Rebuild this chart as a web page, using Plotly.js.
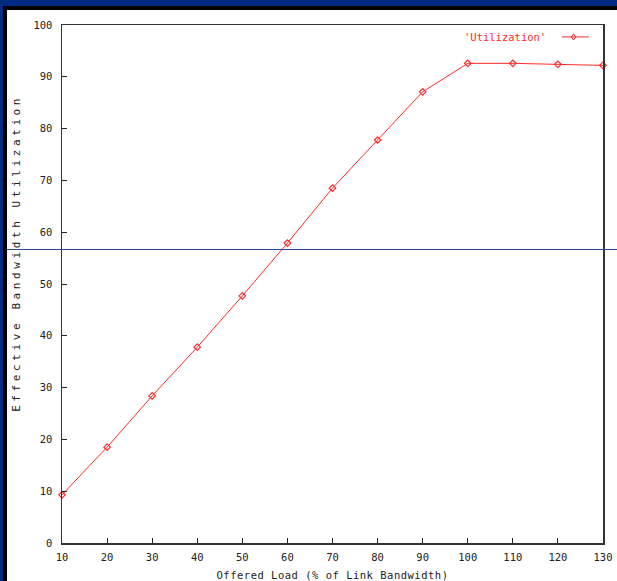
<!DOCTYPE html>
<html>
<head>
<meta charset="utf-8">
<script src="https://cdn.plot.ly/plotly-3.0.1.min.js"></script>
<style>
html, body { margin:0; padding:0; width:617px; height:581px; overflow:hidden; background:#012a80; }
#frame { position:absolute; left:3px; top:6px; width:614px; height:575px; background:#000; }
#chart { position:absolute; left:7px; top:10px; width:610px; height:571px; background:#fff; }
.annotation[data-index="1"] text { letter-spacing:3.6px; }
.xtitle { letter-spacing:0.5px; }
</style>
</head>
<body>
<div id="frame"></div>
<div id="chart"></div>
<script>
// Data
const offeredLoad = [10, 20, 30, 40, 50, 60, 70, 80, 90, 100, 110, 120, 130];
const utilization = [9.3, 18.5, 28.4, 37.8, 47.7, 57.9, 68.5, 77.8, 87.1, 92.6, 92.6, 92.4, 92.2];
const xTicks = [10, 20, 30, 40, 50, 60, 70, 80, 90, 100, 110, 120, 130];
const yTicks = [0, 10, 20, 30, 40, 50, 60, 70, 80, 90, 100];
const seriesName = "'Utilization'";
const xTitle = 'Offered Load (% of Link Bandwidth)';
const yTitle = 'Effective Bandwidth Utilization';

const mono = "DejaVu Sans Mono, Liberation Mono, monospace";
const red = '#ff2a2a';

const trace = {
  x: offeredLoad, y: utilization, name: seriesName,
  type: 'scatter', mode: 'lines+markers',
  line: {color: red, width: 1},
  marker: {symbol: 'diamond-open', size: 5, color: red, line: {color: red, width: 1.2}},
  showlegend: false, cliponaxis: false
};

const layout = {
  width: 610, height: 571,
  margin: {l: 55, r: 14, t: 15, b: 38},
  paper_bgcolor: '#ffffff', plot_bgcolor: '#ffffff',
  font: {family: mono, size: 10, color: '#222'},
  xaxis: {
    range: [10, 130], tickvals: xTicks, ticktext: xTicks.map(String),
    ticks: 'inside', ticklen: 5, tickcolor: '#222', tickwidth: 1,
    showgrid: false, zeroline: false,
    showline: true, linecolor: '#333', linewidth: 1.5, mirror: true,
    ticklabelstandoff: 4,
    tickfont: {family: mono, size: 10.5, color: '#222'},
    title: {text: xTitle, font: {family: mono, size: 10.5, color: '#222'}, standoff: 10}
  },
  yaxis: {
    range: [0, 100], tickvals: yTicks, ticktext: yTicks.map(String),
    ticks: 'inside', ticklen: 5, tickcolor: '#222', tickwidth: 1,
    showgrid: false, zeroline: false,
    showline: true, linecolor: '#333', linewidth: 1.5, mirror: true,
    ticklabelstandoff: 6,
    tickfont: {family: mono, size: 10.5, color: '#222'}
  },
  annotations: [{
    xref: 'paper', yref: 'paper', x: 0.899, y: 0.977, xanchor: 'right', yanchor: 'middle',
    text: seriesName, showarrow: false, font: {family: mono, size: 10.5, color: red}
  }, {
    xref: 'paper', yref: 'paper', x: -0.083, y: 0.558, xanchor: 'center', yanchor: 'middle',
    textangle: -90, text: yTitle, showarrow: false, font: {family: mono, size: 11, color: '#222'}
  }],
  shapes: [
    {type: 'line', xref: 'paper', yref: 'paper', x0: 0.924, x1: 0.974, y0: 0.977, y1: 0.977,
     line: {color: red, width: 1}},
    {type: 'path', xref: 'paper', yref: 'paper',
     path: 'M0.9455,0.983 L0.9495,0.977 L0.9455,0.971 L0.9415,0.977 Z',
     line: {color: red, width: 1}},
    {type: 'line', xref: 'paper', yref: 'paper', x0: -0.105, x1: 1.03, y0: 0.5666, y1: 0.5666,
     line: {color: '#2a4e92', width: 1}}
  ]
};

Plotly.newPlot('chart', [trace], layout, {displayModeBar: false, staticPlot: true});
</script>
</body>
</html>
